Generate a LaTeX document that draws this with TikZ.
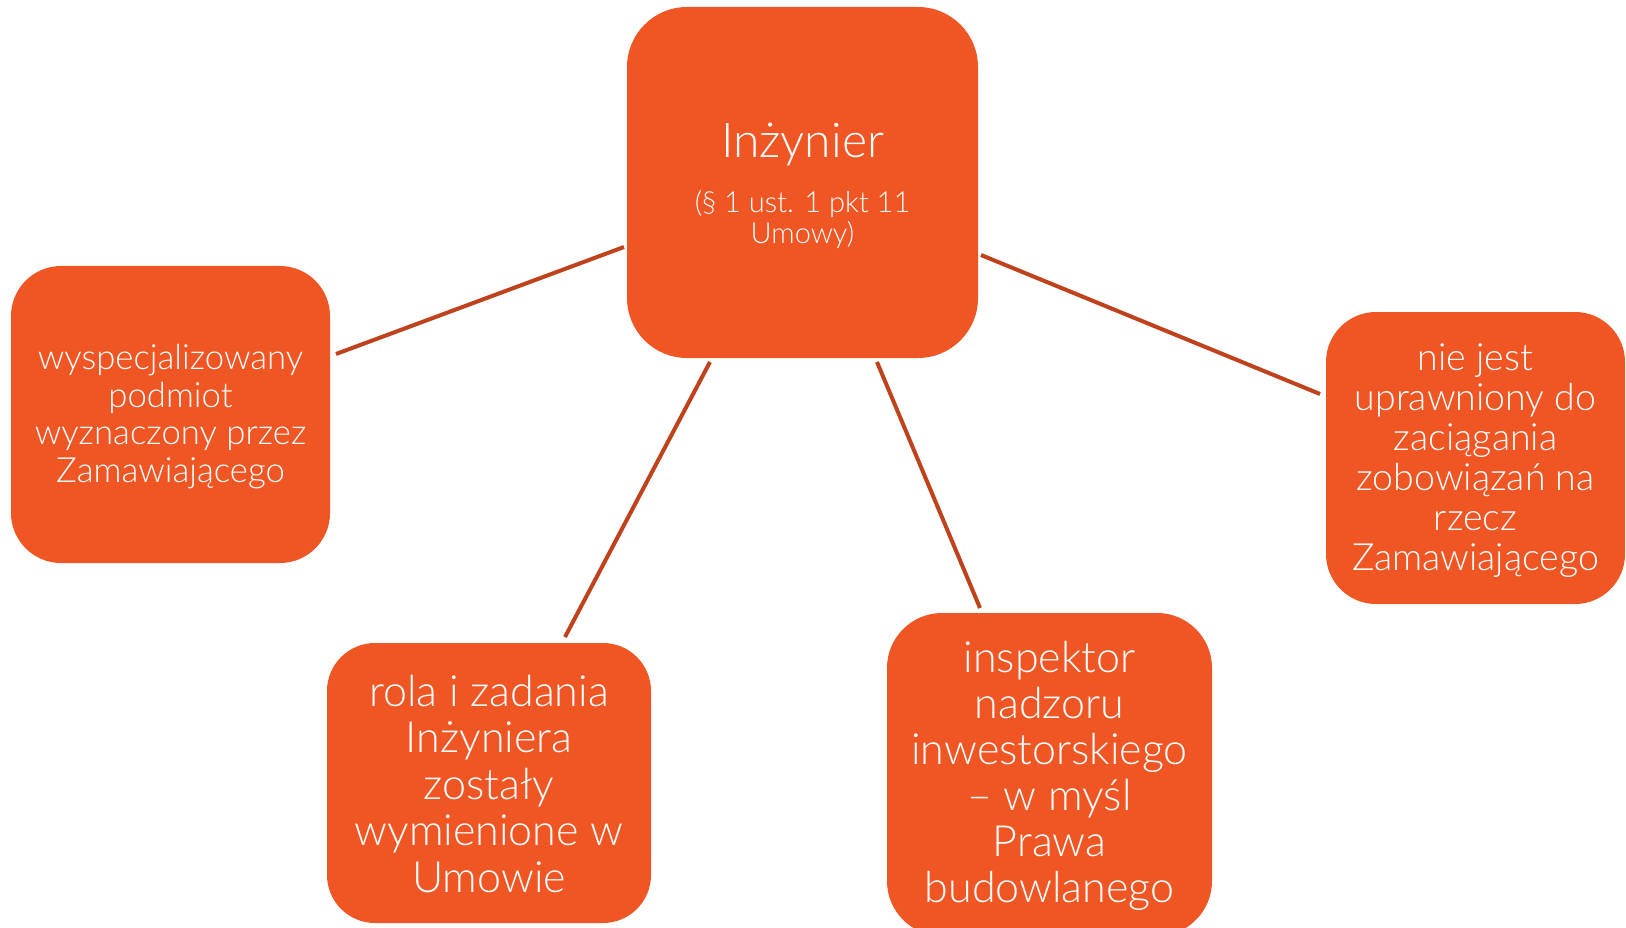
\documentclass[tikz,border=0pt]{standalone}
\usepackage{fontspec}
\setmainfont{Lato Light}
\definecolor{boxfill}{RGB}{240,86,36}
\definecolor{linkcol}{RGB}{192,66,28}
\tikzset{
  box/.style={rectangle, fill=boxfill, draw=none, inner sep=0pt},
  boxtext/.style={text=white, align=center, inner sep=0pt},
  link/.style={draw=linkcol, line width=4pt}
}
\begin{document}
\begin{tikzpicture}[x=1pt,y=-1pt]
\useasboundingbox (0,0) rectangle (1626,928);
\node[box, minimum width=351pt, minimum height=351pt, rounded corners=60pt] (center) at (802.5,182.5) {};
\node[boxtext, font=\fontsize{29}{31}\selectfont] (centertext) at ([yshift=-3pt]center.center)
  {{\fontsize{48}{48}\selectfont Inżynier}\\[24pt](§ 1 ust. 1 pkt 11\\Umowy)};
\node[box, minimum width=319pt, minimum height=297pt, rounded corners=50pt] (left) at (170.5,414.5) {};
\node[boxtext, font=\fontsize{34.7}{37.5}\selectfont] (lefttext) at ([yshift=-2pt]left.center)
  {wyspecjalizowany\\podmiot\\wyznaczony przez\\Zamawiającego};
\node[box, minimum width=299pt, minimum height=292pt, rounded corners=50pt] (right) at (1475.5,458) {};
\node[boxtext, font=\fontsize{37.5}{40}\selectfont] (righttext) at ([yshift=-3pt]right.center)
  {nie jest\\uprawniony do\\zaciągania\\zobowiązań na\\rzecz\\Zamawiającego};
\node[box, minimum width=324pt, minimum height=280pt, rounded corners=48pt] (bl) at (489,783) {};
\node[boxtext, font=\fontsize{43}{46.5}\selectfont] (bltext) at ([yshift=-1pt]bl.center)
  {rola i zadania\\Inżyniera\\zostały\\wymienione w\\Umowie};
\node[box, minimum width=325pt, minimum height=323pt, rounded corners=55pt] (br) at (1049.5,774.5) {};
\node[boxtext, font=\fontsize{43}{46}\selectfont] (brtext) at ([yshift=-1pt]br.center)
  {inspektor\\nadzoru\\inwestorskiego\\– w myśl\\Prawa\\budowlanego};
\coordinate (l1a) at (336,354);
\coordinate (l1b) at (624,247);
\coordinate (l2a) at (565,637);
\coordinate (l2b) at (710,362);
\coordinate (l3a) at (877,362);
\coordinate (l3b) at (980,608);
\coordinate (l4a) at (981,255);
\coordinate (l4b) at (1320,394);
\draw[link] (l1a) -- (l1b);
\draw[link] (l2a) -- (l2b);
\draw[link] (l3a) -- (l3b);
\draw[link] (l4a) -- (l4b);
\end{tikzpicture}
\end{document}
